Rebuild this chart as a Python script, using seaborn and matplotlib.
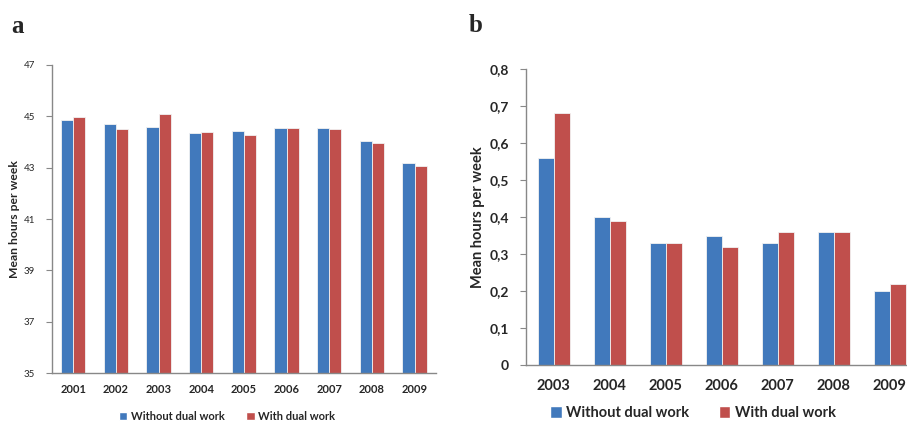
import matplotlib
matplotlib.use("Agg")
import matplotlib.pyplot as plt
from matplotlib.patches import Patch
from matplotlib.ticker import FuncFormatter, FixedLocator
import seaborn as sns
import pandas as pd

# ---- data ----
years_a = ["2001", "2002", "2003", "2004", "2005", "2006", "2007", "2008", "2009"]
without_a = [44.85, 44.70, 44.57, 44.34, 44.44, 44.52, 44.52, 44.02, 43.17]
with_a = [44.96, 44.49, 45.09, 44.40, 44.26, 44.52, 44.49, 43.94, 43.08]

years_b = ["2003", "2004", "2005", "2006", "2007", "2008", "2009"]
without_b = [0.56, 0.40, 0.33, 0.35, 0.33, 0.36, 0.20]
with_b = [0.68, 0.39, 0.33, 0.32, 0.36, 0.36, 0.22]

series_names = ["Without dual work", "With dual work"]
yticks_a = [35, 37, 39, 41, 43, 45, 47]
yticks_b = [0, 0.1, 0.2, 0.3, 0.4, 0.5, 0.6, 0.7, 0.8]

BLUE = "#4179BC"
RED = "#C04F4C"
GRAY = "#888888"

sns.set_style("white")
plt.rcParams["font.family"] = ["Lato", "DejaVu Sans"]


def long_df(years, s1, s2):
    return pd.DataFrame({
        "year": years * 2,
        "value": s1 + s2,
        "series": [series_names[0]] * len(years) + [series_names[1]] * len(years),
    })


fig = plt.figure(figsize=(9.07, 4.21), dpi=100)

# ---- panel a ----
ax1 = fig.add_axes([0.0573, 0.1133, 0.4234, 0.7330])
sns.barplot(data=long_df(years_a, without_a, with_a), x="year", y="value", hue="series",
            palette=[BLUE, RED], saturation=1, width=0.57, ax=ax1, legend=False,
            edgecolor="#f2f2f2", linewidth=0.6)
ax1.set_ylim(35, 47)
ax1.yaxis.set_major_locator(FixedLocator(yticks_a))
ax1.set_xlim(-0.5, len(years_a) - 0.5)
ax1.set_xlabel("")
ax1.set_ylabel("Mean hours per week", fontsize=8.7, fontweight="bold")
ax1.yaxis.set_label_coords(-0.082, 0.5)
ax1.tick_params(axis="y", labelsize=7, direction="out", length=4, width=0.8,
                color=GRAY, pad=8, left=True)
ax1.tick_params(axis="x", labelsize=8, length=0, pad=8)
for lab in ax1.get_xticklabels():
    lab.set_fontweight("bold")
for s in ["top", "right"]:
    ax1.spines[s].set_visible(False)
for s in ["left", "bottom"]:
    ax1.spines[s].set_color(GRAY)
    ax1.spines[s].set_linewidth(1.0)

# ---- panel b ----
ax2 = fig.add_axes([0.5796, 0.1323, 0.4322, 0.7038])
sns.barplot(data=long_df(years_b, without_b, with_b), x="year", y="value", hue="series",
            palette=[BLUE, RED], saturation=1, width=0.57, ax=ax2, legend=False,
            edgecolor="#f2f2f2", linewidth=0.6)
ax2.set_ylim(0, 0.8)
ax2.yaxis.set_major_locator(FixedLocator(yticks_b))
ax2.yaxis.set_major_formatter(FuncFormatter(
    lambda v, p: "0" if abs(v) < 1e-9 else f"{v:.1f}".replace(".", ",")))
ax2.set_xlim(-0.5, len(years_b) - 0.5)
ax2.set_xlabel("")
ax2.set_ylabel("Mean hours per week", fontsize=10.5, fontweight="bold")
ax2.yaxis.set_label_coords(-0.104, 0.5)
ax2.tick_params(axis="y", labelsize=10, direction="out", length=4, width=0.8,
                color=GRAY, pad=8, left=True)
ax2.tick_params(axis="x", labelsize=10.5, length=0, pad=10)
for lab in ax2.get_xticklabels() + ax2.get_yticklabels():
    lab.set_fontweight("bold")
for s in ["top", "right"]:
    ax2.spines[s].set_visible(False)
for s in ["left", "bottom"]:
    ax2.spines[s].set_color(GRAY)
    ax2.spines[s].set_linewidth(1.0)

# ---- legends ----
handles = [Patch(facecolor=BLUE), Patch(facecolor=RED)]
fig.legend(handles, series_names, loc="center", bbox_to_anchor=(227 / 907, 1 - 416 / 421),
           ncol=2, frameon=False, handlelength=0.75, handleheight=0.75, handletextpad=0.3,
           columnspacing=2.0, prop={"size": 8, "weight": "bold"})
fig.legend(handles, series_names, loc="center", bbox_to_anchor=(693 / 907, 1 - 413 / 421),
           ncol=2, frameon=False, handlelength=0.8, handleheight=0.8, handletextpad=0.3,
           columnspacing=2.0, prop={"size": 10.5, "weight": "bold"})

# ---- panel letters ----
fig.text(11 / 907, 1 - 33 / 421, "a", fontsize=18, fontweight="bold",
         family=["Liberation Serif", "DejaVu Serif"])
fig.text(469 / 907, 1 - 32 / 421, "b", fontsize=18, fontweight="bold",
         family=["Liberation Serif", "DejaVu Serif"])

fig.savefig("out.png", dpi=100)
